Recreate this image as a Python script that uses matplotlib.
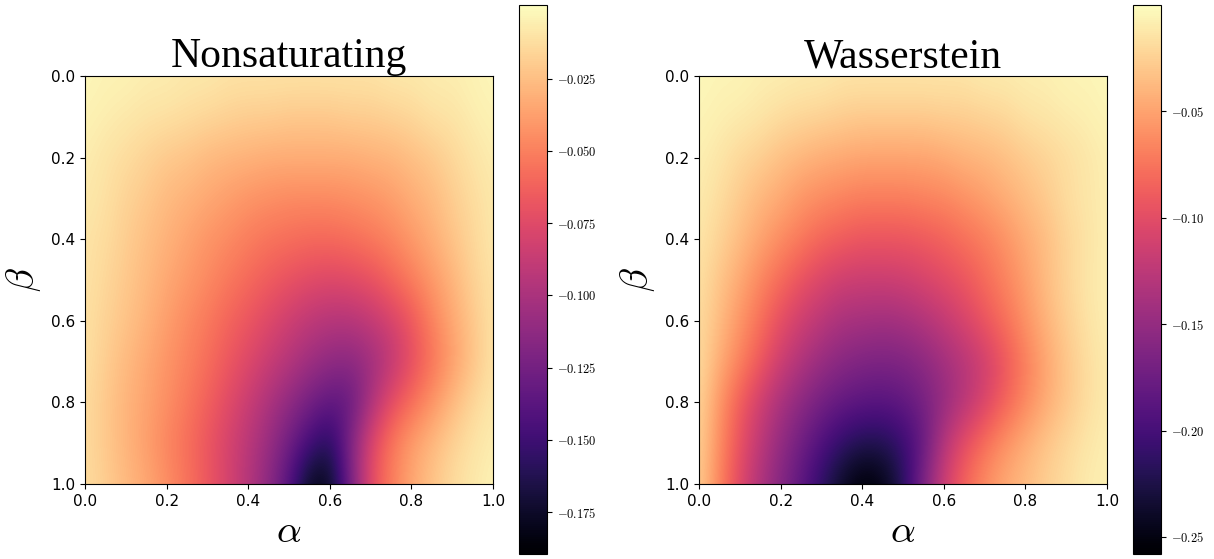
import numpy as np
import matplotlib.pyplot as plt
from matplotlib.ticker import FuncFormatter

plt.rcParams['mathtext.fontset'] = 'cm'

# grid of the sampled field: alpha along x (step 0.05), beta along y (step 0.1, 0 at top)
alpha = np.linspace(0, 1, 21)
beta = np.linspace(0, 1, 11)

# Nonsaturating, one row per beta value
ns_vals = [
    [-0.002,-0.004,-0.004,-0.006,-0.006,-0.008,-0.008,-0.010,-0.010,-0.010,-0.010,-0.010,-0.010,-0.010,-0.010,-0.008,-0.008,-0.006,-0.006,-0.004,-0.002],
    [-0.004,-0.006,-0.008,-0.010,-0.011,-0.013,-0.015,-0.017,-0.019,-0.019,-0.021,-0.021,-0.021,-0.019,-0.019,-0.017,-0.015,-0.011,-0.010,-0.006,-0.004],
    [-0.006,-0.010,-0.013,-0.017,-0.021,-0.023,-0.027,-0.029,-0.030,-0.032,-0.032,-0.032,-0.032,-0.032,-0.030,-0.029,-0.025,-0.021,-0.015,-0.010,-0.006],
    [-0.008,-0.011,-0.017,-0.021,-0.027,-0.030,-0.034,-0.038,-0.042,-0.044,-0.046,-0.046,-0.046,-0.044,-0.042,-0.038,-0.032,-0.027,-0.019,-0.013,-0.008],
    [-0.010,-0.013,-0.019,-0.025,-0.030,-0.036,-0.042,-0.046,-0.051,-0.055,-0.057,-0.059,-0.059,-0.057,-0.053,-0.048,-0.040,-0.032,-0.023,-0.015,-0.008],
    [-0.010,-0.015,-0.021,-0.027,-0.034,-0.040,-0.046,-0.053,-0.059,-0.065,-0.070,-0.074,-0.076,-0.074,-0.070,-0.061,-0.051,-0.040,-0.029,-0.017,-0.010],
    [-0.011,-0.017,-0.023,-0.030,-0.038,-0.046,-0.053,-0.061,-0.068,-0.076,-0.084,-0.091,-0.095,-0.095,-0.089,-0.080,-0.067,-0.049,-0.034,-0.021,-0.010],
    [-0.011,-0.019,-0.027,-0.034,-0.042,-0.049,-0.057,-0.067,-0.076,-0.086,-0.095,-0.105,-0.112,-0.114,-0.106,-0.091,-0.072,-0.055,-0.038,-0.023,-0.010],
    [-0.013,-0.021,-0.029,-0.036,-0.044,-0.053,-0.063,-0.074,-0.086,-0.099,-0.112,-0.125,-0.135,-0.133,-0.099,-0.072,-0.057,-0.042,-0.027,-0.015,-0.008],
    [-0.013,-0.021,-0.029,-0.038,-0.048,-0.057,-0.068,-0.080,-0.093,-0.108,-0.127,-0.148,-0.162,-0.118,-0.076,-0.053,-0.038,-0.027,-0.017,-0.010,-0.006],
    [-0.013,-0.019,-0.027,-0.034,-0.044,-0.055,-0.067,-0.080,-0.095,-0.114,-0.141,-0.181,-0.179,-0.124,-0.072,-0.051,-0.034,-0.023,-0.013,-0.008,-0.004],
]

# Wasserstein
w_vals = [
    [-0.003,-0.005,-0.005,-0.008,-0.008,-0.010,-0.010,-0.013,-0.013,-0.013,-0.013,-0.013,-0.013,-0.013,-0.010,-0.010,-0.008,-0.008,-0.005,-0.005,-0.003],
    [-0.005,-0.008,-0.010,-0.013,-0.018,-0.021,-0.023,-0.026,-0.028,-0.028,-0.028,-0.028,-0.026,-0.026,-0.023,-0.021,-0.015,-0.013,-0.010,-0.008,-0.005],
    [-0.008,-0.013,-0.021,-0.026,-0.034,-0.039,-0.044,-0.046,-0.049,-0.049,-0.049,-0.049,-0.046,-0.041,-0.039,-0.034,-0.028,-0.023,-0.018,-0.013,-0.008],
    [-0.010,-0.018,-0.028,-0.039,-0.046,-0.057,-0.062,-0.067,-0.070,-0.070,-0.070,-0.067,-0.065,-0.059,-0.052,-0.044,-0.036,-0.028,-0.018,-0.013,-0.008],
    [-0.013,-0.023,-0.036,-0.049,-0.062,-0.072,-0.083,-0.088,-0.093,-0.093,-0.093,-0.090,-0.085,-0.077,-0.070,-0.059,-0.046,-0.036,-0.023,-0.015,-0.008],
    [-0.015,-0.031,-0.046,-0.065,-0.080,-0.095,-0.106,-0.114,-0.116,-0.116,-0.114,-0.108,-0.101,-0.093,-0.080,-0.067,-0.052,-0.036,-0.023,-0.013,-0.008],
    [-0.018,-0.036,-0.057,-0.077,-0.098,-0.114,-0.126,-0.137,-0.139,-0.142,-0.139,-0.132,-0.121,-0.108,-0.093,-0.077,-0.059,-0.041,-0.026,-0.015,-0.008],
    [-0.018,-0.044,-0.067,-0.090,-0.114,-0.132,-0.147,-0.157,-0.163,-0.165,-0.163,-0.155,-0.142,-0.129,-0.114,-0.093,-0.070,-0.049,-0.031,-0.018,-0.010],
    [-0.021,-0.057,-0.088,-0.114,-0.137,-0.155,-0.170,-0.181,-0.186,-0.188,-0.183,-0.170,-0.150,-0.129,-0.108,-0.085,-0.065,-0.046,-0.031,-0.018,-0.010],
    [-0.023,-0.062,-0.095,-0.124,-0.150,-0.173,-0.194,-0.212,-0.222,-0.222,-0.209,-0.181,-0.129,-0.098,-0.077,-0.059,-0.044,-0.031,-0.021,-0.013,-0.008],
    [-0.026,-0.067,-0.103,-0.134,-0.160,-0.186,-0.214,-0.240,-0.258,-0.250,-0.219,-0.165,-0.114,-0.083,-0.062,-0.046,-0.036,-0.026,-0.018,-0.010,-0.008],
]

titles = ['Nonsaturating', 'Wasserstein']
vlims = [(-0.1895, 0.0005), (-0.258, 0.0)]
cb_ticks = [[-0.175, -0.15, -0.125, -0.1, -0.075, -0.05, -0.025],
            [-0.25, -0.2, -0.15, -0.1, -0.05]]
cb_fmt = ['$%.3f$', '$%.2f$']
ticks = [0.0, 0.2, 0.4, 0.6, 0.8, 1.0]

fig = plt.figure(figsize=(12.14, 5.59), dpi=100)
W, H = 1214., 559.
ax_x = [85, 699]
cb_x = [519, 1133]

# pixel centres sit on the sample points
da = (alpha[1] - alpha[0]) / 2
db = (beta[1] - beta[0]) / 2
ext = [alpha[0] - da, alpha[-1] + da, beta[-1] + db, beta[0] - db]

for i, Z in enumerate([ns_vals, w_vals]):
    ax = fig.add_axes([ax_x[i]/W, 75/H, 408/W, 408/H])
    cax = fig.add_axes([cb_x[i]/W, 5/H, 28/W, 549/H])
    m = ax.imshow(np.array(Z), cmap='magma', interpolation='bicubic',
                  extent=ext, aspect='auto',
                  vmin=vlims[i][0], vmax=vlims[i][1])
    ax.set_xlim(0, 1)
    ax.set_ylim(1, 0)
    ax.set_xticks(ticks)
    ax.set_yticks(ticks)
    ax.tick_params(labelsize=11)
    ax.set_title(titles[i], family='Liberation Serif', fontsize=30, pad=3)
    ax.set_xlabel(r'$\alpha$', fontsize=28, labelpad=2)
    ax.set_ylabel(r'$\beta$', fontsize=28, labelpad=6)
    cb = fig.colorbar(m, cax=cax)
    cb.set_ticks(cb_ticks[i])
    fmt = cb_fmt[i]
    cb.ax.yaxis.set_major_formatter(FuncFormatter(lambda v, p, f=fmt: f % v))
    cb.ax.tick_params(labelsize=9)

fig.savefig('out.png', dpi=100)
